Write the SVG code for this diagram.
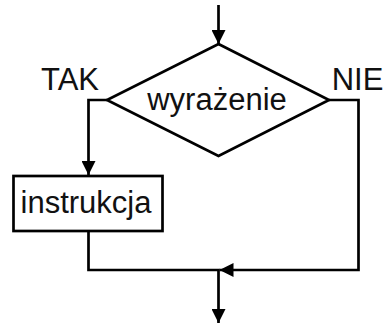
<svg xmlns="http://www.w3.org/2000/svg" width="383" height="324" viewBox="0 0 383 324">
<style>
.ln{fill:none;stroke:#000;stroke-width:2.7;stroke-linejoin:miter}
.sh{fill:#fff;stroke:#000;stroke-width:2.7}
.tx{font-family:"Liberation Sans",Arial,sans-serif;font-size:31px;fill:#111}
</style>
<defs>
<marker id="arr" markerUnits="userSpaceOnUse" markerWidth="14" markerHeight="14" refX="12" refY="6" orient="auto" viewBox="0 0 12 12">
<path d="M0,0 L12,6 L0,12 Z" fill="#000"/>
</marker>
</defs>
<g id="connectors">
<path class="ln" d="M218.5,5 V44" marker-end="url(#arr)"/>
<path class="ln" d="M107,100 H88.5 V175" marker-end="url(#arr)"/>
<path class="ln" d="M329,100 H358.5 V270 H219.5" marker-end="url(#arr)"/>
<path class="ln" d="M88.5,231 V270 H218.5 V323" marker-end="url(#arr)"/>
</g>
<g id="decision">
<polygon class="sh" points="218.5,44 329,100 218.5,156 107,100"/>
<text class="tx" x="217" y="110" text-anchor="middle">wyrażenie</text>
</g>
<g id="instruction">
<rect class="sh" x="13.5" y="176" width="149" height="55"/>
<text class="tx" x="86" y="213" text-anchor="middle">instrukcja</text>
</g>
<g id="label-tak">
<text class="tx" x="70" y="90" text-anchor="middle">TAK</text>
</g>
<g id="label-nie">
<text class="tx" x="357.5" y="90" text-anchor="middle">NIE</text>
</g>
</svg>
